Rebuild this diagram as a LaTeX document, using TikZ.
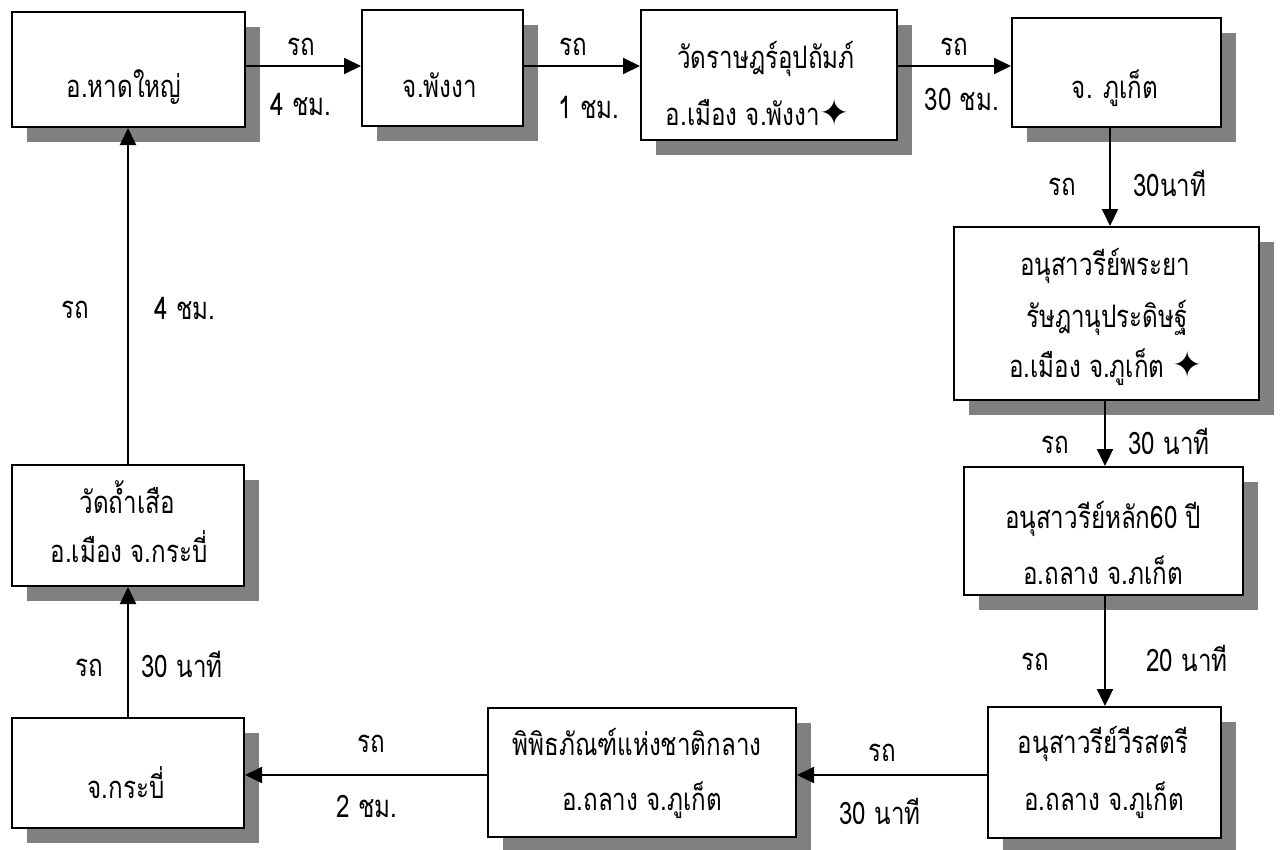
\documentclass[tikz,border=0pt]{standalone}
\usepackage{fontspec}
\setmainfont[Script=Thai,FakeStretch=0.78]{Loma}
\newfontfamily\starfont{DejaVu Sans}
\usetikzlibrary{arrows.meta,shadows}
\newcommand{\stsym}{{\starfont\fontsize{36}{36}\selectfont\char"2726}}
\tikzset{
  boxst/.style={draw=black, line width=2pt, fill=white, inner sep=0pt,
    drop shadow={shadow xshift=15pt, shadow yshift=-15pt, opacity=1, fill=black!50}},
  arr/.style={line width=2pt, -{Triangle[length=17pt,width=16pt]}},
  txt/.style={anchor=base, inner sep=0pt, font=\fontsize{31}{35}\selectfont},
  lbl/.style={anchor=base, inner sep=0pt, font=\fontsize{31}{35}\selectfont}
}
\begin{document}
\begin{tikzpicture}[x=1pt,y=-1pt]
\useasboundingbox (0,0) rectangle (1281,849);
% boxes
\node[boxst, minimum width=233pt, minimum height=115pt] (b1) at (128.5,69.5) {};
\node[boxst, minimum width=161pt, minimum height=116pt] (b2) at (442.5,68) {};
\node[boxst, minimum width=256pt, minimum height=130pt] (b3) at (769,75) {};
\node[boxst, minimum width=209pt, minimum height=109pt] (b4) at (1116.5,72.5) {};
\node[boxst, minimum width=305pt, minimum height=173pt] (b5) at (1106.5,313.5) {};
\node[boxst, minimum width=279pt, minimum height=128pt] (b6) at (1103.5,531) {};
\node[boxst, minimum width=233pt, minimum height=131pt] (b7) at (1104.5,772.5) {};
\node[boxst, minimum width=308pt, minimum height=129pt] (b8) at (642,772.5) {};
\node[boxst, minimum width=232pt, minimum height=110pt] (b9) at (128,773) {};
\node[boxst, minimum width=232pt, minimum height=121pt] (b10) at (128,525.5) {};
% box texts
\node[txt] (t1) at (124,97) {อ.หาดใหญ่};
\node[txt] (t2) at (440,97) {จ.พังงา};
\node[txt] (t3a) at (766,68) {วัดราษฎร์อุปถัมภ์};
\node[txt] (t3b) at (758,125) {อ.เมือง จ.พังงา\stsym};
\node[txt] (t4) at (1115,98) {จ. ภูเก็ต};
\node[txt] (t5a) at (1105,275) {อนุสาวรีย์พระยา};
\node[txt] (t5b) at (1107,327) {รัษฎานุประดิษฐ์};
\node[txt] (t5c) at (1106,377) {อ.เมือง จ.ภูเก็ต \stsym};
\node[txt] (t6a) at (1103,528) {อนุสาวรีย์หลัก60 ปี};
\node[txt] (t6b) at (1103,584) {อ.ถลาง จ.ภเก็ต};
\node[txt] (t7a) at (1103,753) {อนุสาวรีย์วีรสตรี};
\node[txt] (t7b) at (1104,810) {อ.ถลาง จ.ภูเก็ต};
\node[txt] (t8a) at (637,755) {พิพิธภัณฑ์แห่งชาติกลาง};
\node[txt] (t8b) at (642,810) {อ.ถลาง จ.ภูเก็ต};
\node[txt] (t9) at (126,798) {จ.กระบี่};
\node[txt] (t10a) at (127,513) {วัดถ้ำเสือ};
\node[txt] (t10b) at (129,562) {อ.เมือง จ.กระบี่};
% helper coordinates for connector lines
\coordinate (rowtop) at (0,66);
\coordinate (rowbot) at (0,775);
\coordinate (colA) at (1110,0);
\coordinate (colB) at (1105,0);
\coordinate (colL) at (128,0);
% connectors
\draw[arr] (b1.east |- rowtop) -- (b2.west |- rowtop);
\draw[arr] (b2.east |- rowtop) -- (b3.west |- rowtop);
\draw[arr] (b3.east |- rowtop) -- (b4.west |- rowtop);
\draw[arr] (b4.south -| colA) -- (b5.north -| colA);
\draw[arr] (b5.south -| colB) -- (b6.north -| colB);
\draw[arr] (b6.south -| colB) -- (b7.north -| colB);
\draw[arr] (b7.west |- rowbot) -- (b8.east |- rowbot);
\draw[arr] (b8.west |- rowbot) -- (b9.east |- rowbot);
\draw[arr] (b9.north -| colL) -- (b10.south -| colL);
\draw[arr] (b10.north -| colL) -- (b1.south -| colL);
% labels
\node[lbl] (l1a) at (301,55) {รถ};
\node[lbl] (l1b) at (301,115) {4 ชม.};
\node[lbl] (l2a) at (573,55) {รถ};
\node[lbl] (l2b) at (589,118) {1 ชม.};
\node[lbl] (l3a) at (954,55) {รถ};
\node[lbl] (l3b) at (962,110) {30 ชม.};
\node[lbl] (l4a) at (1062,195) {รถ};
\node[lbl] (l4b) at (1170,196) {30นาที};
\node[lbl] (l5a) at (1055,453) {รถ};
\node[lbl] (l5b) at (1169,454) {30 นาที};
\node[lbl] (l6a) at (1035,670) {รถ};
\node[lbl] (l6b) at (1187,671) {20 นาที};
\node[lbl] (l7a) at (882,761) {รถ};
\node[lbl] (l7b) at (880,824) {30 นาที};
\node[lbl] (l8a) at (371,752) {รถ};
\node[lbl] (l8b) at (367,817) {2 ชม.};
\node[lbl] (l9a) at (89,676) {รถ};
\node[lbl] (l9b) at (182,677) {30 นาที};
\node[lbl] (l10a) at (75,318) {รถ};
\node[lbl] (l10b) at (185,319) {4 ชม.};
\end{tikzpicture}
\end{document}
